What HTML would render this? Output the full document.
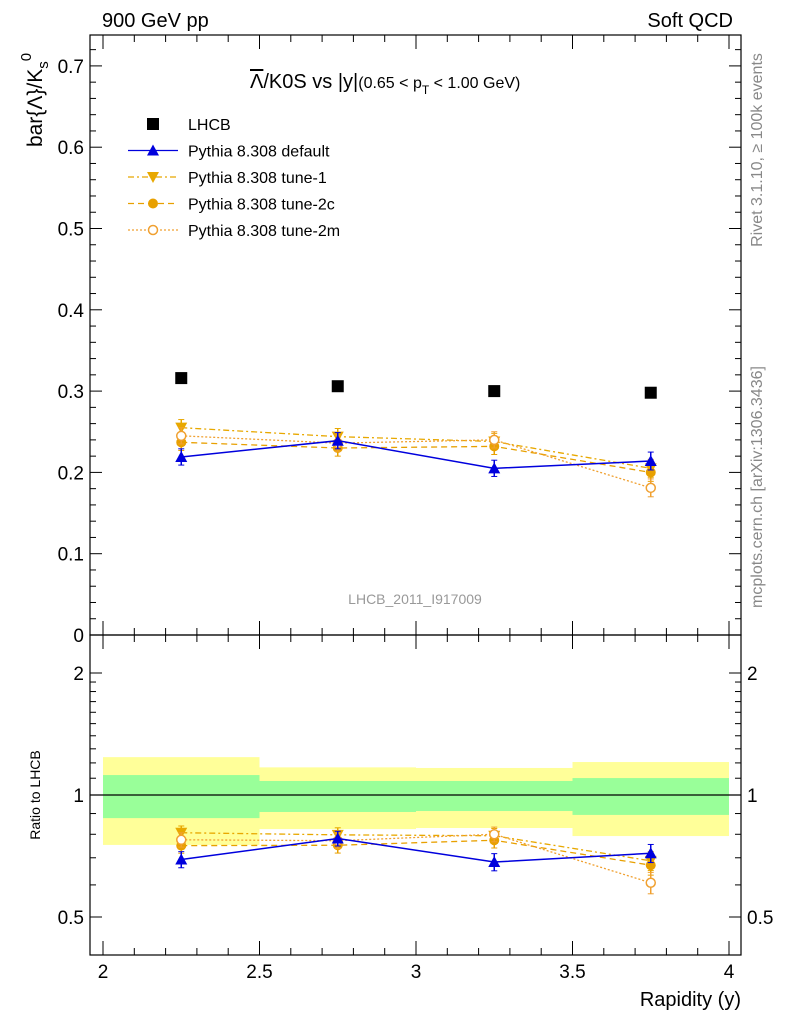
<!DOCTYPE html>
<html><head><meta charset="utf-8"><style>
body{margin:0;background:#fff;font-family:"Liberation Sans",sans-serif;}
svg text{font-family:"Liberation Sans",sans-serif;}
</style></head><body>
<svg id="c" width="786" height="1024" xmlns="http://www.w3.org/2000/svg">
<text x="102" y="27" font-size="20">900 GeV pp</text>
<text x="733" y="27" font-size="20" text-anchor="end">Soft QCD</text>
<text x="250" y="88" font-size="20"><tspan text-decoration="overline">Λ</tspan>/K0S vs |y|<tspan font-size="16">(0.65 &lt; p</tspan><tspan font-size="12" dy="6">T</tspan><tspan font-size="16" dy="-6"> &lt; 1.00 GeV)</tspan></text>
<text transform="translate(42,100) rotate(-90)" font-size="21" text-anchor="middle">bar{Λ}/K<tspan font-size="15" dy="6">s</tspan><tspan font-size="15" dy="-17">0</tspan></text>
<text transform="translate(40,795) rotate(-90)" font-size="14" text-anchor="middle">Ratio to LHCB</text>
<text x="741" y="1006" font-size="20" text-anchor="end">Rapidity (y)</text>
<text transform="translate(762,150) rotate(-90)" font-size="16" fill="#888" text-anchor="middle">Rivet 3.1.10, ≥ 100k events</text>
<text transform="translate(762,487) rotate(-90)" font-size="16" fill="#888" text-anchor="middle">mcplots.cern.ch [arXiv:1306.3436]</text>
<text x="415" y="604" font-size="14" fill="#999" text-anchor="middle">LHCB_2011_I917009</text>
<g id="g"></g>
</svg>
<script>
const xCenters=[2.25,2.75,3.25,3.75];
const xEdges=[2,2.5,3,3.5,4];
const dataVals=[0.316,0.306,0.300,0.298];
const defVals=[0.219,0.239,0.205,0.214];
const tune1Vals=[0.255,0.244,0.238,0.205];
const tune2cVals=[0.237,0.230,0.232,0.200];
const tune2mVals=[0.245,0.236,0.240,0.181];
const mcErr=[0.010,0.010,0.010,0.011];
const yellowHi=[1.24,1.17,1.166,1.206];
const yellowLo=[0.753,0.824,0.829,0.792];
const greenHi=[1.12,1.083,1.083,1.101];
const greenLo=[0.877,0.908,0.913,0.893];
const mainTicks=[0,0.1,0.2,0.3,0.4,0.5,0.6,0.7];
const ratioTicks=[0.5,1,2];
const xTicks=[2,2.5,3,3.5,4];

const NS="http://www.w3.org/2000/svg";
const g=document.getElementById('g');
const L=90,R=741,T=35,M=635,B=955;
const X=v=>103+(v-2)*313;
const Y=v=>635-v*813;
const YR=v=>795-Math.log2(v)*122;
function el(t,a,p){const e=document.createElementNS(NS,t);for(const k in a)e.setAttribute(k,a[k]);(p||g).appendChild(e);return e;}

for(let i=0;i<4;i++){
 let r=el('rect',{x:X(xEdges[i]),y:YR(yellowHi[i]),width:X(xEdges[i+1])-X(xEdges[i]),height:YR(yellowLo[i])-YR(yellowHi[i]),fill:'#ffff99'});
 
 
 let q=el('rect',{x:X(xEdges[i]),y:YR(greenHi[i]),width:X(xEdges[i+1])-X(xEdges[i]),height:YR(greenLo[i])-YR(greenHi[i]),fill:'#99ff99'});
 
 
}
el('line',{x1:L,x2:R,y1:YR(1),y2:YR(1),stroke:'#000','stroke-width':1.2});

el('rect',{x:L,y:T,width:R-L,height:M-T,fill:'none',stroke:'#000','stroke-width':1.2});
el('rect',{x:L,y:M,width:R-L,height:B-M,fill:'none',stroke:'#000','stroke-width':1.2});

for(let v=0;v<=0.741;v+=0.02){const y=Y(v);if(y<T)break;const maj=Math.abs(v*10-Math.round(v*10))<1e-6;const l=maj?12:6;
 el('line',{x1:L,x2:L+l,y1:y,y2:y,stroke:'#000'});el('line',{x1:R,x2:R-l,y1:y,y2:y,stroke:'#000'});}
mainTicks.forEach(v=>{const t=el('text',{x:L-6,y:Y(v)+7,'font-size':19,'text-anchor':'end'});t.textContent=v===0?'0':String(v);
 
 });
[0.5,0.6,0.7,0.8,0.9,1,1.1,1.2,1.3,1.4,1.5,1.6,1.7,1.8,1.9,2].forEach(v=>{const y=YR(v);const maj=ratioTicks.includes(v);const l=maj?12:6;
 el('line',{x1:L,x2:L+l,y1:y,y2:y,stroke:'#000'});el('line',{x1:R,x2:R-l,y1:y,y2:y,stroke:'#000'});});
ratioTicks.forEach(v=>{[[L-6,'end'],[R+6,'start']].forEach(([x,a])=>{const t=el('text',{x:x,y:YR(v)+7,'font-size':19,'text-anchor':a});t.textContent=String(v);
 
 });});
for(let v=1.9;v<=4.05;v+=0.1){const x=X(v);if(x<L||x>R)continue;const maj=Math.abs(v*2-Math.round(v*2))<1e-6;const l=maj?14:7;
 [T,M].forEach(y0=>el('line',{x1:x,x2:x,y1:y0,y2:y0+l,stroke:'#000'}));
 [M,B].forEach(y0=>el('line',{x1:x,x2:x,y1:y0,y2:y0-l,stroke:'#000'}));}
xTicks.forEach(v=>{const t=el('text',{x:X(v),y:978,'font-size':19,'text-anchor':'middle'});t.textContent=String(v);
 
 });

const series=[
 {name:'tune-1',vals:tune1Vals,color:'#e8a800',dash:'6,3,2,3',marker:'tridown'},
 {name:'tune-2c',vals:tune2cVals,color:'#e8a000',dash:'6,4',marker:'circle'},
 {name:'tune-2m',vals:tune2mVals,color:'#f0a030',dash:'2,2',marker:'ocircle'},
 {name:'default',vals:defVals,color:'#0000dd',dash:'',marker:'triup'}
];
function marker(m,x,y,c){
 if(m==='circle')return el('circle',{cx:x,cy:y,r:5,fill:c});
 if(m==='ocircle')return el('circle',{cx:x,cy:y,r:4.5,fill:'#fff',stroke:c,'stroke-width':1.5});
 if(m==='triup')return el('path',{d:`M${x-6},${y+5}L${x+6},${y+5}L${x},${y-6}Z`,fill:c});
 if(m==='tridown')return el('path',{d:`M${x-6},${y-5}L${x+6},${y-5}L${x},${y+6}Z`,fill:c});
 if(m==='square')return el('rect',{x:x-6,y:y-6,width:12,height:12,fill:c});
}
series.forEach(s=>{
 [Y,YR].forEach((fy,pi)=>{
  const vs=s.vals.map((v,i)=>pi===0?v:v/dataVals[i]);
  const es=mcErr.map((e,i)=>pi===0?e:e/dataVals[i]);
  const pts=vs.map((v,i)=>X(xCenters[i])+','+fy(v)).join(' ');
  const pl=el('polyline',{points:pts,fill:'none',stroke:s.color,'stroke-width':s.dash?1.3:1.5,'stroke-dasharray':s.dash});
  
  
  vs.forEach((v,i)=>{const x=X(xCenters[i]);
   el('line',{x1:x,x2:x,y1:fy(v+es[i]),y2:fy(v-es[i]),stroke:s.color,'stroke-width':1.5});
   el('line',{x1:x-3,x2:x+3,y1:fy(v+es[i]),y2:fy(v+es[i]),stroke:s.color});
   el('line',{x1:x-3,x2:x+3,y1:fy(v-es[i]),y2:fy(v-es[i]),stroke:s.color});
   const m=marker(s.marker,x,fy(v),s.color);
   
   
  });
 });
});
dataVals.forEach((v,i)=>{const m=marker('square',X(xCenters[i]),Y(v),'#000');
 
 });

const leg=[['LHCB','square','#000',''],['Pythia 8.308 default','triup','#0000dd',''],['Pythia 8.308 tune-1','tridown','#e8a800','6,3,2,3'],['Pythia 8.308 tune-2c','circle','#e8a000','6,4'],['Pythia 8.308 tune-2m','ocircle','#f0a030','2,2']];
leg.forEach((e,i)=>{const y=124+i*26.5;
 if(i>0)el('line',{x1:128,x2:178,y1:y,y2:y,stroke:e[2],'stroke-width':1.3,'stroke-dasharray':e[3]});
 marker(e[1],153,y,e[2]);
 const t=el('text',{x:188,y:y+6,'font-size':16});t.textContent=e[0];
 
 });
</script>
</body></html>
